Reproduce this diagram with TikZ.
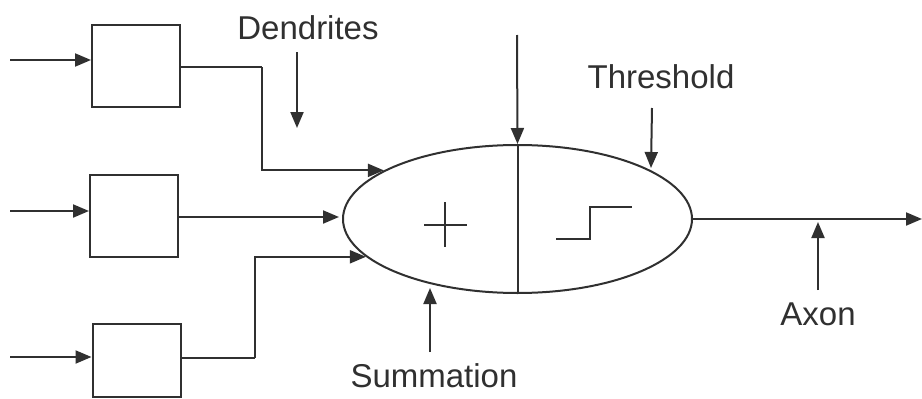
\documentclass[tikz,border=0pt]{standalone}
\usepackage{fontspec}
\setmainfont{Liberation Sans}
\usetikzlibrary{arrows.meta,shapes.geometric}
\definecolor{ink}{HTML}{303030}
\tikzset{
  line/.style={draw=ink,line width=2pt},
  conn/.style={line,-{Triangle[length=16pt,width=13pt]}},
  inbox/.style={line,rectangle,minimum width=88pt,minimum height=82pt,inner sep=0pt},
  lbl/.style={text=ink,font=\fontsize{33}{38}\selectfont,anchor=base,inner sep=0pt},
}
\begin{document}
\begin{tikzpicture}[x=1pt,y=-1pt]
\useasboundingbox[fill=white] (0,0) rectangle (922,399);
% boxes
\node[inbox] (b1) at (136,66) {};
\node[inbox] (b2) at (134,215.5) {};
\node[inbox,minimum height=73pt] (b3) at (136.5,360.5) {};
% ellipse cell
\node[line,ellipse,minimum width=349pt,minimum height=148pt,inner sep=0pt] (cell) at (517.5,219) {};
\draw[line] (cell.north) -- (cell.south);
% plus and step
\draw[draw=ink,line width=1.4pt] (424,225) -- (467,225) (445,202) -- (445,247);
\draw[draw=ink,line width=1.8pt] (556,239) -- (590,239) -- (590,207) -- (632,207);
% input coordinates
\coordinate (i1) at (10,60);
\coordinate (i2) at (10,211);
\coordinate (i3) at (10,357);
\draw[conn] (i1) -- (i1 -| b1.west);
\draw[conn] (i2) -- (i2 -| b2.west);
\draw[conn] (i3) -- (i3 -| b3.west);
% dendrite connections
\coordinate (k1) at (262,67);
\coordinate (e1) at (cell.160.8);
\draw[line] (b1.east |- k1) -- (k1);
\draw[conn] (k1) |- (e1);
\draw[conn] (b2.east |- 0,217) -- (339,217);
\coordinate (k3) at (255,358);
\coordinate (e3) at (cell.194.2);
\draw[line] (b3.east |- k3) -- (k3);
\draw[conn] (k3) |- (e3);
% top input
\coordinate (t0) at (517,35);
\draw[conn] (t0) -- (cell.north);
% axon
\coordinate (ax) at (922,219);
\draw[conn] (cell.east) -- (ax);
% labels
\node[lbl] (dend) at (308,39) {Dendrites};
\node[lbl] (thr) at (661,88) {Threshold};
\node[lbl] (sum) at (434,387) {Summation};
\node[lbl] (axl) at (818,325) {Axon};
% label arrows
\coordinate (d0) at (297,52); \coordinate (d1) at (297,128);
\draw[conn] (d0) -- (d1);
\coordinate (h0) at (652,108); \coordinate (h1) at (651,168);
\draw[conn] (h0) -- (h1);
\coordinate (s0) at (430,352); \coordinate (s1) at (430,288);
\draw[conn] (s0) -- (s1);
\coordinate (a0) at (818,290); \coordinate (a1) at (818,222);
\draw[conn] (a0) -- (a1);
\end{tikzpicture}
\end{document}
